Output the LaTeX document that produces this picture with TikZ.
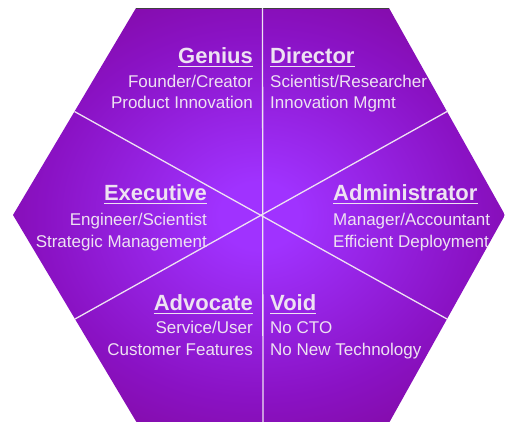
\documentclass[tikz,border=0pt]{standalone}
\usepackage{fontspec}
\setmainfont{Liberation Sans}
\usetikzlibrary{calc}

\definecolor{hexcore}{RGB}{160,50,255}
\definecolor{hexmid}{RGB}{138,18,196}
\definecolor{hexrim}{RGB}{122,0,124}
\definecolor{hexink}{RGB}{238,226,242}
% glow from the middle of the hexagon out to its rim
\pgfdeclareradialshading{hexglow}{\pgfpoint{0bp}{0bp}}{color(0bp)=(hexcore); color(4bp)=(hexcore); color(22bp)=(hexmid); color(42bp)=(hexrim); color(100bp)=(hexrim)}

\tikzset{
	role/.style={font=\bfseries\fontsize{22}{22}\selectfont, text=hexink, inner sep=0pt},
	duty/.style={font=\fontsize{17}{17}\selectfont, text=hexink, inner sep=0pt},
	divider/.style={hexink, line width=1.3pt},
	uline/.style={hexink, line width=1.4pt}
}

\begin{document}
\begin{tikzpicture}[x=1pt, y=-1pt]
\clip (0,0) rectangle (505,421);
% corners of the hexagon
\coordinate (tl) at (136,8);
\coordinate (tr) at (389,8);
\coordinate (r) at (505,215);
\coordinate (br) at (389,423);
\coordinate (bl) at (137,423);
\coordinate (l) at (13,215);
\shade[shading=hexglow] (tl) -- (tr) -- (r) -- (br) -- (bl) -- (l) -- cycle;
\draw[black!75, line width=0.8pt] (tl) -- (tr);

% midpoints of the sides, where the dividers end
\coordinate (mt) at ($(tl)!.5!(tr)$);
\coordinate (mb) at ($(bl)!.5!(br)$);
\coordinate (mtl) at ($(tl)!.5!(l)$);
\coordinate (mbr) at ($(r)!.5!(br)$);
\coordinate (mtr) at ($(tr)!.5!(r)$);
\coordinate (mbl) at ($(l)!.5!(bl)$);
\draw[divider] (mt) -- (mb);
\draw[divider] (mtl) -- (mbr);
\draw[divider] (mtr) -- (mbl);

% left column
\node[role, anchor=base east] (genius) at (253,63) {Genius};
\node[duty, anchor=base east] (geniusa) at (253,87) {Founder/Creator};
\node[duty, anchor=base east] (geniusb) at (253,108) {Product Innovation};
\node[role, anchor=base east] (executive) at (207,200) {Executive};
\node[duty, anchor=base east] (executivea) at (207,225) {Engineer/Scientist};
\node[duty, anchor=base east] (executiveb) at (207,247) {Strategic Management};
\node[role, anchor=base east] (advocate) at (253,310) {Advocate};
\node[duty, anchor=base east] (advocatea) at (253,333) {Service/User};
\node[duty, anchor=base east] (advocateb) at (253,355) {Customer Features};

% right column
\node[role, anchor=base west] (director) at (270,63) {Director};
\node[duty, anchor=base west] (directora) at (270,87) {Scientist/Researcher};
\node[duty, anchor=base west] (directorb) at (270,108) {Innovation Mgmt};
\node[role, anchor=base west] (administrator) at (333,200) {Administrator};
\node[duty, anchor=base west] (administratora) at (333,225) {Manager/Accountant};
\node[duty, anchor=base west] (administratorb) at (333,247) {Efficient Deployment};
\node[role, anchor=base west] (void) at (270,310) {Void};
\node[duty, anchor=base west] (voida) at (270,333) {No CTO};
\node[duty, anchor=base west] (voidb) at (270,355) {No New Technology};

\foreach \t in {genius,executive,advocate,director,administrator,void}
	\draw[uline] ([yshift=-3.5pt]\t.base west) -- ([yshift=-3.5pt]\t.base east);
\end{tikzpicture}
\end{document}
